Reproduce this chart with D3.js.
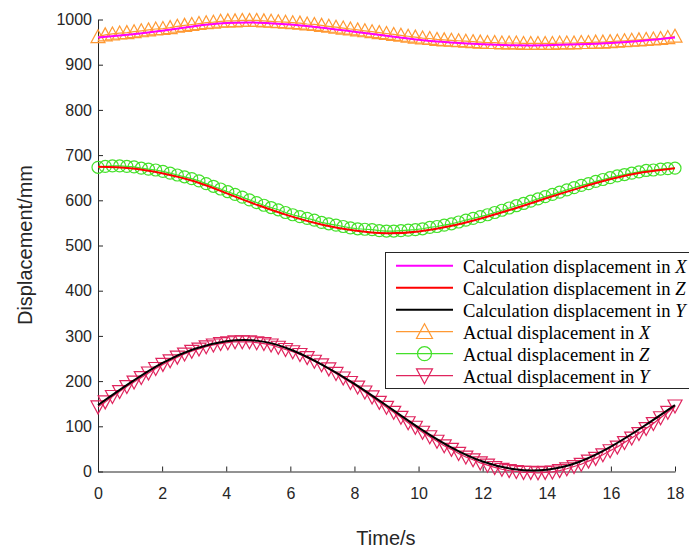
<!DOCTYPE html>
<html>
<head>
<meta charset="utf-8">
<script src="https://cdn.jsdelivr.net/npm/d3@7"></script>
<style>
  body { margin: 0; background: #fff; }
  svg text { font-family: "Liberation Sans", Arial, sans-serif; }
</style>
</head>
<body>
<script>

// calculated curves, read at whole seconds
var calcTime = [0, 1, 2, 3, 4, 5, 6, 7, 8, 9, 10, 11, 12, 13, 14, 15, 16, 17, 18];
var calcX = [960, 967, 975, 985, 992, 993, 989, 982, 973, 964, 955, 949, 945, 943, 943, 945, 948, 953, 960];
var calcZ = [674, 671, 660, 642, 616, 589, 565, 546, 533, 527, 531, 543, 561, 582, 605, 627, 647, 662, 671];
var calcY = [147, 196, 240, 271, 288, 289, 270, 236, 194, 146, 97, 54, 22, 5, 4, 21, 55, 99, 147];

// measured points (one marker each)
var actTime = [0, 0.225, 0.45, 0.675, 0.9, 1.125, 1.35, 1.575, 1.8, 2.025,
  2.25, 2.475, 2.7, 2.925, 3.15, 3.375, 3.6, 3.825, 4.05, 4.275,
  4.5, 4.725, 4.95, 5.175, 5.4, 5.625, 5.85, 6.075, 6.3, 6.525,
  6.75, 6.975, 7.2, 7.425, 7.65, 7.875, 8.1, 8.325, 8.55, 8.775,
  9, 9.225, 9.45, 9.675, 9.9, 10.125, 10.35, 10.575, 10.8, 11.025,
  11.25, 11.475, 11.7, 11.925, 12.15, 12.375, 12.6, 12.825, 13.05, 13.275,
  13.5, 13.725, 13.95, 14.175, 14.4, 14.625, 14.85, 15.075, 15.3, 15.525,
  15.75, 15.975, 16.2, 16.425, 16.65, 16.875, 17.1, 17.325, 17.55, 17.775, 18];

var actX = [962, 966, 968, 970, 971, 973, 975, 977, 979, 980,
  982, 985, 987, 989, 991, 993, 994, 996, 997, 997,
  998, 998, 998, 997, 996, 995, 994, 993, 992, 990,
  989, 987, 985, 983, 981, 979, 977, 975, 973, 971,
  969, 967, 965, 963, 961, 959, 958, 956, 955, 954,
  953, 952, 951, 950, 949, 949, 948, 948, 948, 947,
  947, 947, 947, 947, 948, 948, 948, 949, 949, 950,
  950, 951, 952, 953, 954, 955, 956, 957, 958, 960, 963];

var actZ = [673, 675, 676, 676, 675, 674, 671, 669, 667, 664,
  660, 656, 652, 648, 643, 637, 631, 625, 619, 613,
  607, 601, 595, 589, 584, 579, 573, 568, 564, 560,
  556, 551, 548, 545, 542, 539, 537, 536, 535, 533,
  532, 532, 533, 534, 535, 537, 540, 542, 545, 548,
  552, 556, 560, 564, 568, 573, 578, 583, 588, 593,
  598, 603, 608, 613, 618, 623, 628, 633, 637, 642,
  646, 650, 654, 657, 660, 663, 666, 667, 669, 670, 671];

var actY = [143, 154, 166, 177, 188, 198, 208, 218, 228, 237,
  245, 253, 260, 266, 271, 276, 280, 283, 285, 287,
  287, 287, 285, 283, 280, 275, 270, 265, 259, 252,
  244, 236, 227, 217, 207, 197, 187, 176, 165, 153,
  142, 131, 120, 108, 98, 87, 77, 67, 57, 49,
  40, 32, 26, 19, 14, 9, 5, 2, 0, -2,
  -2, -3, -2, -1, 2, 6, 11, 16, 23, 29,
  37, 46, 54, 64, 74, 84, 95, 106, 119, 131, 145];

var xTicks = [0, 2, 4, 6, 8, 10, 12, 14, 16, 18];
var yTicks = [0, 100, 200, 300, 400, 500, 600, 700, 800, 900, 1000];

var legendNames = [
  ["Calculation displacement in ", "X"],
  ["Calculation displacement in ", "Z"],
  ["Calculation displacement in ", "Y"],
  ["Actual displacement in ", "X"],
  ["Actual displacement in ", "Z"],
  ["Actual displacement in ", "Y"]
];

var W = 689, H = 552;
var axisColor = "#262626";
var cOrange = "#ff9933", cGreen = "#44e02a", cRed = "#e0245e";

var x = d3.scaleLinear().domain([0, 18]).range([98, 675]);
var y = d3.scaleLinear().domain([0, 1000]).range([471.5, 19.5]);

var svg = d3.select("body").append("svg")
    .attr("width", W)
    .attr("height", H);

// axes (ticks point inward, like matlab)
var xAxis = d3.axisBottom(x).tickValues(xTicks).tickSizeInner(-5).tickSizeOuter(0).tickPadding(16);
var yAxis = d3.axisLeft(y).tickValues(yTicks).tickFormat(d3.format("d"))
    .tickSizeInner(-5).tickSizeOuter(0).tickPadding(6);

var gx = svg.append("g")
    .attr("transform", "translate(0," + y(0) + ")")
    .call(xAxis);
var gy = svg.append("g")
    .attr("transform", "translate(" + x(0) + ",0)")
    .call(yAxis);

[gx, gy].forEach(function(g) {
  g.select(".domain").attr("stroke", axisColor);
  g.selectAll(".tick line").attr("stroke", axisColor);
  g.selectAll(".tick text")
    .attr("fill", axisColor)
    .style("font-size", "16px");
});

svg.append("text")
    .attr("transform", "translate(32,245) rotate(-90)")
    .attr("text-anchor", "middle")
    .attr("fill", axisColor)
    .style("font-size", "20px")
    .text("Displacement/mm");

svg.append("text")
    .attr("x", 386)
    .attr("y", 545)
    .attr("text-anchor", "middle")
    .attr("fill", axisColor)
    .style("font-size", "20px")
    .text("Time/s");

// marker shapes
function triUp(s) { return "M0," + (-s) + "L" + s + "," + (s * 0.85) + "L" + (-s) + "," + (s * 0.85) + "Z"; }
function triDown(s) { return "M0," + s + "L" + s + "," + (-s * 0.85) + "L" + (-s) + "," + (-s * 0.85) + "Z"; }

var actual = [
  {vals: actX, color: cOrange, shape: "up"},
  {vals: actZ, color: cGreen, shape: "circle"},
  {vals: actY, color: cRed, shape: "down"}
];

var actLine = d3.line()
    .x(function(d) { return x(d[0]); })
    .y(function(d) { return y(d[1]); });

actual.forEach(function(s) {
  var pts = actTime.map(function(t, i) { return [t, s.vals[i]]; });
  svg.append("path")
      .datum(pts)
      .attr("fill", "none")
      .attr("stroke", s.color)
      .attr("stroke-width", 1.2)
      .attr("d", actLine);

  var m = svg.append("g").selectAll(".mk")
      .data(pts)
    .enter();
  if (s.shape == "circle") {
    m.append("circle")
      .attr("cx", function(d) { return x(d[0]); })
      .attr("cy", function(d) { return y(d[1]); })
      .attr("r", 6)
      .attr("fill", "none")
      .attr("stroke", s.color)
      .attr("stroke-width", 1.2);
  } else {
    m.append("path")
      .attr("transform", function(d) { return "translate(" + x(d[0]) + "," + y(d[1]) + ")"; })
      .attr("d", s.shape == "up" ? triUp(7) : triDown(7))
      .attr("fill", "none")
      .attr("stroke", s.color)
      .attr("stroke-width", 1.2);
  }
});

// calculated curves on top
var calcLine = d3.line()
    .curve(d3.curveNatural)
    .x(function(d) { return x(d[0]); })
    .y(function(d) { return y(d[1]); });

[[calcX, "#ff00ff"], [calcZ, "#ff0000"], [calcY, "#000000"]].forEach(function(c) {
  svg.append("path")
      .datum(calcTime.map(function(t, i) { return [t, c[0][i]]; }))
      .attr("fill", "none")
      .attr("stroke", c[1])
      .attr("stroke-width", 2)
      .attr("d", calcLine);
});

// legend
var legend = svg.append("g").attr("class", "legend");
legend.append("rect")
    .attr("x", 385.5)
    .attr("y", 252.5)
    .attr("width", 320)
    .attr("height", 136)
    .attr("fill", "#fff")
    .attr("stroke", axisColor)
    .attr("stroke-width", 1);

var legColors = ["#ff00ff", "#ff0000", "#000000", cOrange, cGreen, cRed];
var legShapes = [null, null, null, "up", "circle", "down"];

var rows = legend.selectAll(".row")
    .data(legendNames)
  .enter().append("g")
    .attr("class", "row")
    .attr("transform", function(d, i) { return "translate(0," + (265.7 + i * 22) + ")"; });

rows.append("line")
    .attr("x1", 396)
    .attr("x2", 453)
    .attr("stroke", function(d, i) { return legColors[i]; })
    .attr("stroke-width", function(d, i) { return i < 3 ? 2 : 1.2; });

rows.each(function(d, i) {
  var g = d3.select(this);
  if (legShapes[i] == "circle") {
    g.append("circle").attr("cx", 424.5).attr("r", 7)
      .attr("fill", "none").attr("stroke", legColors[i]).attr("stroke-width", 1.2);
  } else if (legShapes[i]) {
    g.append("path").attr("transform", "translate(424.5,0)")
      .attr("d", legShapes[i] == "up" ? triUp(8) : triDown(8))
      .attr("fill", "none").attr("stroke", legColors[i]).attr("stroke-width", 1.2);
  }
});

var lt = rows.append("text")
    .attr("x", 463)
    .attr("y", 7)
    .attr("fill", "#000")
    .style("font-family", "'Liberation Serif', 'Times New Roman', serif")
    .style("font-size", "18.6px");
lt.append("tspan").text(function(d) { return d[0]; });
lt.append("tspan").style("font-style", "italic").text(function(d) { return d[1]; });

</script>
</body>
</html>
